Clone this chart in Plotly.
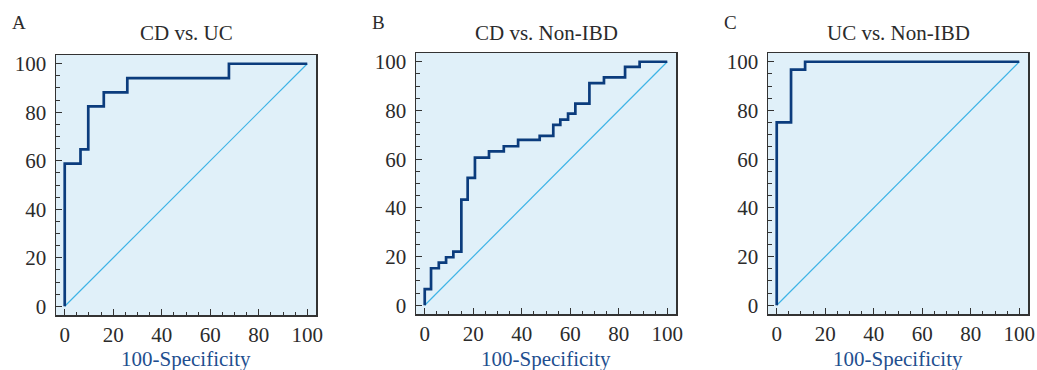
import plotly.graph_objects as go

# ---- data ----
panel_letters = ["A", "B", "C"]
panel_titles = ["CD vs. UC", "CD vs. Non-IBD", "UC vs. Non-IBD"]

fpr_A = [0, 0, 6.5, 9.7, 16.1, 25.8, 67.7, 100]
tpr_A = [0, 58.8, 64.7, 82.4, 88.2, 94.1, 100, 100]

fpr_B = [0, 0, 2.6, 5.8, 8.8, 11.8, 15.1, 17.7, 20.7, 26.5, 32.6, 38.5, 47.4,
         53.0, 55.9, 59.1, 62.1, 67.9, 73.9, 82.6, 88.6, 100]
tpr_B = [0, 6.6, 15.2, 17.5, 19.7, 22.0, 43.4, 52.3, 60.6, 63.2, 65.3, 67.9, 69.6,
         74.1, 76.2, 78.7, 82.8, 91.2, 93.6, 97.9, 100, 100]

fpr_C = [0, 0, 5.9, 11.7, 100]
tpr_C = [0, 75.1, 96.8, 100, 100]

ref_x = [0, 100]
ref_y = [0, 100]

tick_vals = [0, 20, 40, 60, 80, 100]
x_title = "100-Specificity"

# ---- layout geometry (page pixels) ----
W, H = 1037, 370
px_x = [(56, 316), (416, 676), (768, 1028)]
px_y = [(55, 315), (53, 314), (53, 314)]


def fx_(p):
    return p / W


def fy_(p):
    return 1 - p / H


FONT = "Liberation Serif, Times New Roman, serif"
ROC_COLOR = "#0b3c7d"
DIAG_COLOR = "#3db3e6"
BG = "#e0f0f9"
FRAME = "#333333"
TEXT = "#2b2b2b"
XT_COLOR = "#1f4f8f"

fig = go.Figure()
series = [(fpr_A, tpr_A), (fpr_B, tpr_B), (fpr_C, tpr_C)]

annotations = []
for i, (fx, ty) in enumerate(series):
    ax = "" if i == 0 else str(i + 1)
    fig.add_trace(go.Scatter(x=ref_x, y=ref_y, mode="lines",
                             line=dict(color=DIAG_COLOR, width=1.2),
                             xaxis="x" + ax, yaxis="y" + ax, showlegend=False,
                             hoverinfo="skip"))
    fig.add_trace(go.Scatter(x=fx, y=ty, mode="lines", line_shape="hv",
                             line=dict(color=ROC_COLOR, width=2.7),
                             xaxis="x" + ax, yaxis="y" + ax, showlegend=False))
    x0, x1 = px_x[i]
    y0, y1 = px_y[i]
    xd = [fx_(x0), fx_(x1)]
    yd = [fy_(y1), fy_(y0)]
    common = dict(range=[-3.6, 103.6], showgrid=False, zeroline=False,
                  showline=True, linecolor=FRAME, linewidth=1.5, mirror=True,
                  ticks="inside", ticklen=6, tickwidth=1.2, tickcolor=FRAME,
                  tickvals=tick_vals,
                  tickfont=dict(family=FONT, size=21, color=TEXT),
                  minor=dict(ticks="inside", ticklen=3.5, tickwidth=1,
                             tickcolor=FRAME, dtick=5, tick0=0, showgrid=False),
                  automargin=False, fixedrange=True)
    fig.update_layout(**{
        "xaxis" + ax: dict(domain=xd, anchor="y" + ax, ticklabelstandoff=0, **common),
        "yaxis" + ax: dict(domain=yd, anchor="x" + ax, ticklabelstandoff=4, **common),
    })
    fig.add_shape(type="rect", xref="x" + ax + " domain", yref="y" + ax + " domain",
                  x0=0, x1=1, y0=0, y1=1, fillcolor=BG, line_width=0, layer="below")
    cx = fx_((x0 + x1) / 2)
    annotations.append(dict(text=panel_titles[i], x=cx, y=fy_(33), xref="paper",
                            yref="paper", showarrow=False, xanchor="center",
                            yanchor="middle",
                            font=dict(family=FONT, size=21, color=TEXT)))
    annotations.append(dict(text=panel_letters[i], x=fx_(x0 - 46), y=fy_(22),
                            xref="paper", yref="paper", showarrow=False,
                            xanchor="left", yanchor="middle",
                            font=dict(family=FONT, size=19, color=TEXT)))
    annotations.append(dict(text=x_title, x=cx, y=fy_(359), xref="paper",
                            yref="paper", showarrow=False, xanchor="center",
                            yanchor="middle",
                            font=dict(family=FONT, size=21, color=XT_COLOR)))

fig.update_layout(width=W, height=H, margin=dict(l=0, r=0, t=0, b=0),
                  paper_bgcolor="white", plot_bgcolor="rgba(0,0,0,0)",
                  annotations=annotations, showlegend=False)

fig.write_html("out.html",
               config={"displayModeBar": False, "staticPlot": True},
               post_script="document.body.style.margin='0';"
                           "document.body.style.overflow='hidden';")
